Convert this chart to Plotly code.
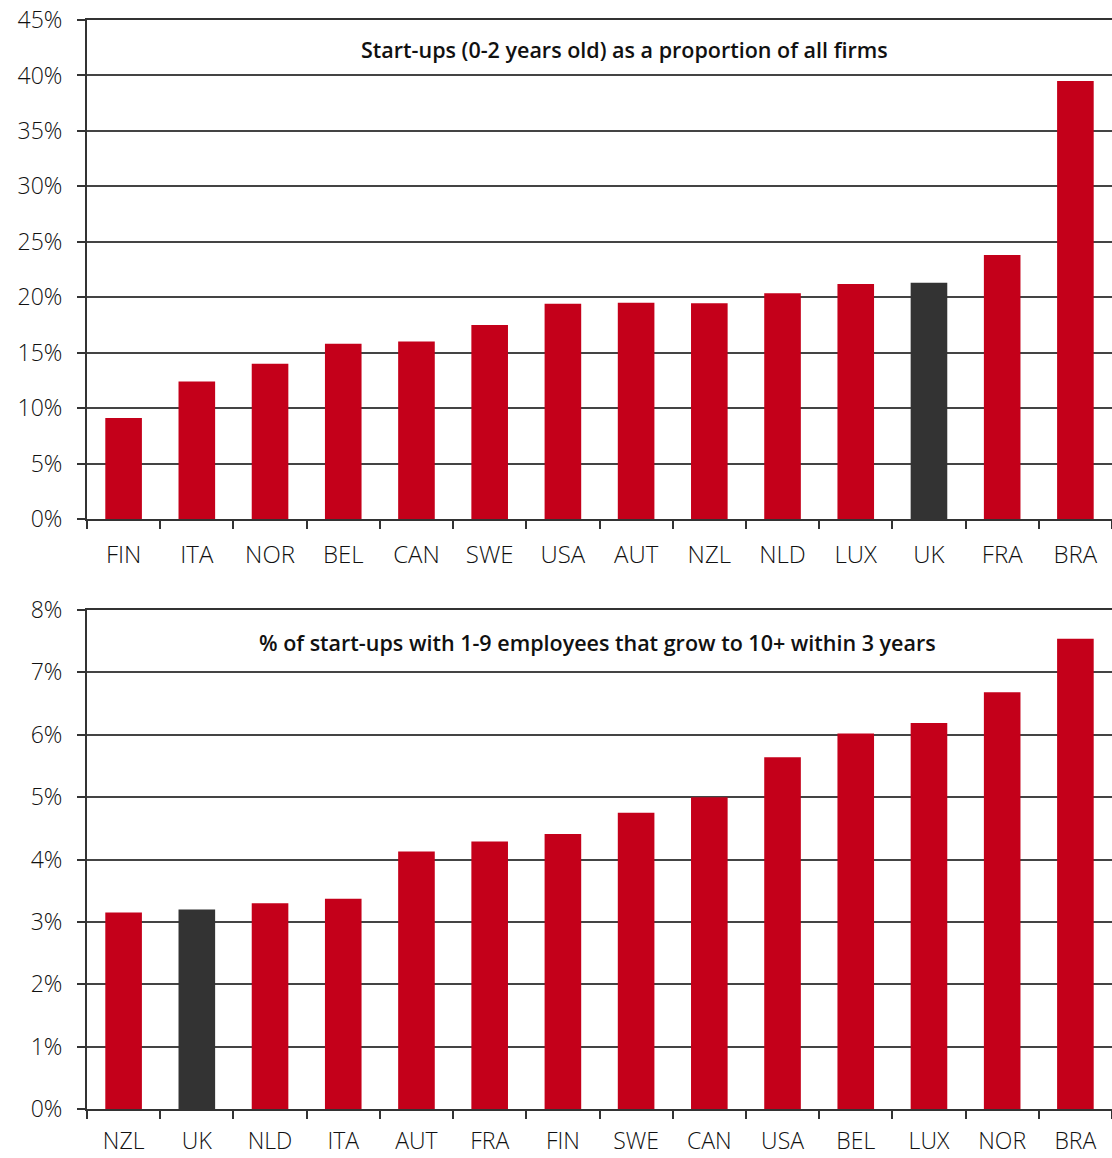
import plotly.graph_objects as go
from plotly.subplots import make_subplots

# top panel: start-ups as share of all firms (%)
top_countries = ["FIN", "ITA", "NOR", "BEL", "CAN", "SWE", "USA", "AUT", "NZL", "NLD", "LUX", "UK", "FRA", "BRA"]
top_values = [9.1, 12.4, 14.0, 15.8, 16.0, 17.5, 19.4, 19.5, 19.45, 20.35, 21.2, 21.3, 23.8, 39.5]

# bottom panel: % of start-ups 1-9 employees growing to 10+ within 3 years
bot_countries = ["NZL", "UK", "NLD", "ITA", "AUT", "FRA", "FIN", "SWE", "CAN", "USA", "BEL", "LUX", "NOR", "BRA"]
bot_values = [3.15, 3.2, 3.3, 3.37, 4.13, 4.29, 4.41, 4.75, 5.0, 5.64, 6.02, 6.19, 6.68, 7.54]

top_title = "Start-ups (0-2 years old) as a proportion of all firms"
bot_title = "% of start-ups with 1-9 employees that grow to 10+ within 3 years"

RED = "#c4001a"
DARK = "#333333"
FONT = "Open Sans"


def bar_colors(cats):
    return [DARK if c == "UK" else RED for c in cats]


fig = make_subplots(rows=2, cols=1, vertical_spacing=0.0836)

fig.add_trace(go.Bar(x=top_countries, y=top_values, marker=dict(color=bar_colors(top_countries), line=dict(width=0)),
                     showlegend=False), row=1, col=1)
fig.add_trace(go.Bar(x=bot_countries, y=bot_values, marker=dict(color=bar_colors(bot_countries), line=dict(width=0)),
                     showlegend=False), row=2, col=1)

xcommon = dict(showline=True, mirror=True, linecolor=DARK, linewidth=2, ticks="outside", tickson="boundaries",
               ticklen=8, tickwidth=2, tickcolor=DARK, showgrid=False, automargin=False,
               ticklabelstandoff=13, ticklabeloverflow="allow",
               tickfont=dict(family=FONT, size=24, color="#111", weight=300))
ycommon = dict(showline=True, linecolor=DARK, linewidth=2, ticks="outside", ticklen=8, tickwidth=2,
               tickcolor=DARK, showgrid=True, gridcolor="#444", gridwidth=2, zeroline=False,
               ticksuffix="%", ticklabelstandoff=10, automargin=False, ticklabeloverflow="allow",
               tickfont=dict(family=FONT, size=23, color="#111", weight=300))

fig.update_xaxes(**xcommon)
fig.update_yaxes(**ycommon)
fig.update_yaxes(range=[0, 45], dtick=5, row=1, col=1)
fig.update_yaxes(range=[0, 8], dtick=1, row=2, col=1)
# bottom axis labels sit close to the page edge
fig.update_xaxes(ticklabelstandoff=10, tickfont_size=23, row=2, col=1)

fig.add_annotation(text=top_title, xref="x domain", yref="y domain", x=0.524, y=0.94, yanchor="middle",
                   showarrow=False, font=dict(family=FONT, size=21.5, color="#111", weight=600))
fig.add_annotation(text=bot_title, xref="x2 domain", yref="y2 domain", x=0.498, y=0.934, yanchor="middle",
                   showarrow=False, font=dict(family=FONT, size=21.5, color="#111", weight=600))

fig.update_layout(
    width=1112, height=1158,
    margin=dict(l=87, r=0, t=20, b=49),
    plot_bgcolor="white", paper_bgcolor="white",
    bargap=0.5,
)

# drop the default 8px body margin so the figure fills the window
fig.write_html("out.html", config={"displayModeBar": False},
               post_script="document.body.style.margin='0';")
